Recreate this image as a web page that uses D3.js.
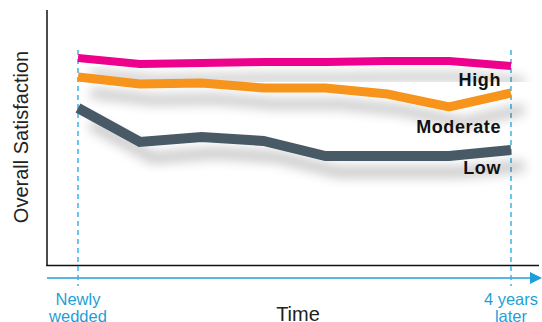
<!DOCTYPE html>
<html><head><meta charset="utf-8">
<script src="https://cdn.jsdelivr.net/npm/d3@7"></script>
<style>body{margin:0;background:#fff}svg{display:block}</style>
</head><body>
<script>
const timePoints = [0,1,2,3,4,5,6,7];
const seriesNames = ["High","Moderate","Low"];
const highValues = [8.28,8.04,8.08,8.12,8.12,8.16,8.16,7.96];
const moderateValues = [7.52,7.24,7.28,7.08,7.08,6.84,6.32,6.88];
const lowValues = [6.28,4.92,5.12,4.96,4.36,4.36,4.36,4.60];
const startLabel = ["Newly","wedded"];
const endLabel = ["4 years","later"];

const W=542,H=322;
const svg=d3.select("body").append("svg").attr("width",W).attr("height",H);
const defs=svg.append("defs");
const f=defs.append("filter").attr("id","sh").attr("x","-20%").attr("y","-100%").attr("width","150%").attr("height","400%");
f.append("feGaussianBlur").attr("in","SourceAlpha").attr("stdDeviation",6).attr("result","b");
f.append("feOffset").attr("in","b").attr("dx",13).attr("dy",16).attr("result","o");
f.append("feFlood").attr("flood-color","#000").attr("flood-opacity",0.24).attr("result","c");
f.append("feComposite").attr("in","c").attr("in2","o").attr("operator","in").attr("result","s");
const m=f.append("feMerge");m.append("feMergeNode").attr("in","s");m.append("feMergeNode").attr("in","SourceGraphic");

const x=d3.scalePoint().domain(timePoints).range([78,511]);
const y=d3.scaleLinear().domain([0,10]).range([265,15]);
const blue="#1E9FD8";

// axes
svg.append("line").attr("x1",47).attr("x2",47).attr("y1",10).attr("y2",266).attr("stroke","#111").attr("stroke-width",1.5);
svg.append("line").attr("x1",46.3).attr("x2",539).attr("y1",265.5).attr("y2",265.5).attr("stroke","#111").attr("stroke-width",1.5);
// blue arrow
svg.append("line").attr("x1",47).attr("x2",533).attr("y1",278).attr("y2",278).attr("stroke",blue).attr("stroke-width",1.5);
svg.append("path").attr("d","M530,272 L542,278 L530,284 Z").attr("fill",blue);
// dashed lines
[timePoints[0],timePoints[timePoints.length-1]].forEach(t=>{
  svg.append("line").attr("x1",x(t)).attr("x2",x(t)).attr("y1",50).attr("y2",286)
    .attr("stroke","#3DB2E3").attr("stroke-width",1.5).attr("stroke-dasharray","5,4");
});

const line=d3.line().x((d,i)=>x(timePoints[i])).y(d=>y(d));
const series=[
 {name:"High",vals:highValues,color:"#EC008C",w:8},
 {name:"Moderate",vals:moderateValues,color:"#F7941D",w:9},
 {name:"Low",vals:lowValues,color:"#475A65",w:10}
];
series.forEach(s=>{
  svg.append("path").datum(s.vals).attr("d",line).attr("fill","none")
   .attr("stroke",s.color).attr("stroke-width",s.w).attr("stroke-linejoin","miter").attr("filter","url(#sh)");
});
// series labels
const labY={High:86,Moderate:133,Low:174};
series.forEach(s=>{
  svg.append("text").attr("x",501).attr("y",labY[s.name]).attr("text-anchor","end")
   .attr("font-family","Liberation Sans, Arial, sans-serif").attr("font-weight","bold")
   .attr("font-size",18).attr("letter-spacing",0.6).attr("fill","#111").text(s.name);
});
// y label
svg.append("text").attr("transform","translate(28,137) rotate(-90)").attr("text-anchor","middle")
 .attr("font-family","Liberation Sans, Arial, sans-serif").attr("font-size",20).attr("fill","#222").text("Overall Satisfaction");
// x label
svg.append("text").attr("x",298).attr("y",321).attr("text-anchor","middle")
 .attr("font-family","Liberation Sans, Arial, sans-serif").attr("font-size",20).attr("fill","#222").text("Time");
// start/end labels
[[startLabel,x(timePoints[0])],[endLabel,x(timePoints[timePoints.length-1])]].forEach(([lab,xx])=>{
  lab.forEach((t,i)=>{
    svg.append("text").attr("x",xx).attr("y",305+i*17).attr("text-anchor","middle")
     .attr("font-family","Liberation Sans, Arial, sans-serif").attr("font-size",16.5).attr("fill",blue).text(t);
  });
});
</script>
</body></html>
